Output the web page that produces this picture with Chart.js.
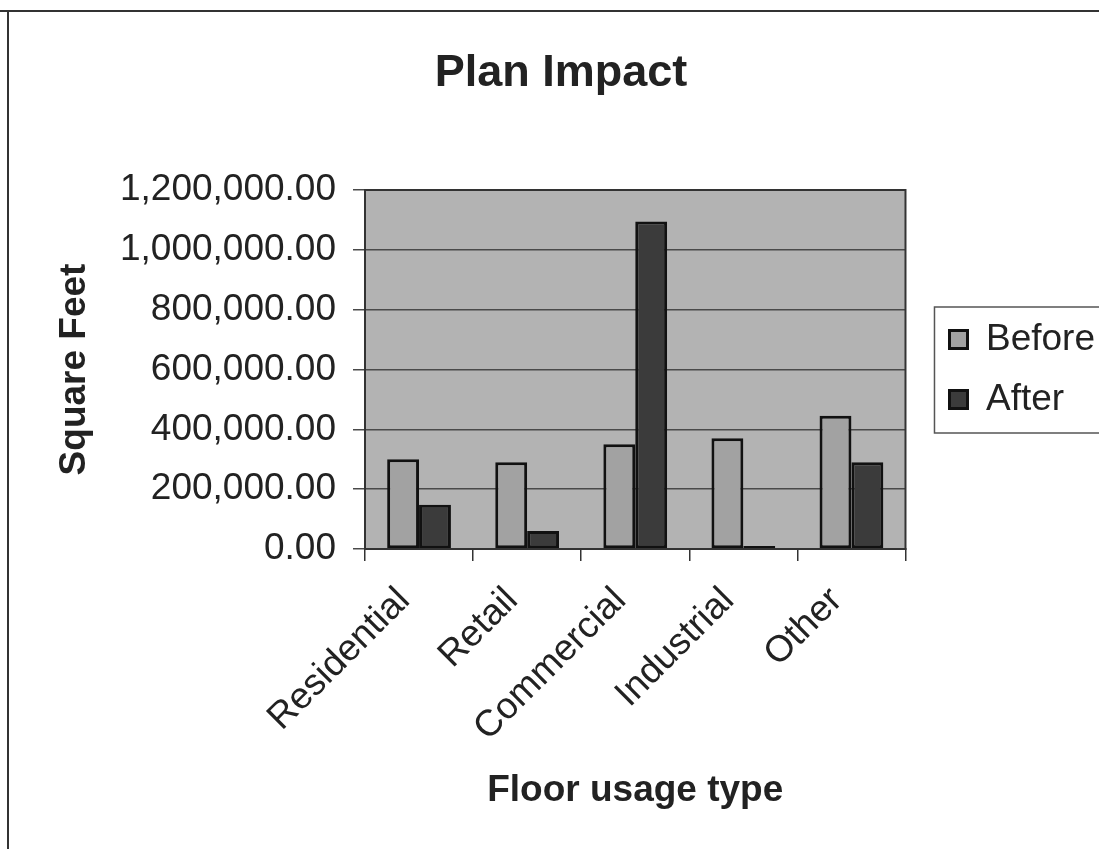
<!DOCTYPE html>
<html>
<head>
<meta charset="utf-8">
<script src="https://cdn.jsdelivr.net/npm/chart.js@4.4.1/dist/chart.umd.min.js"></script>
<style>
html,body{margin:0;padding:0;background:#fff;}
#wrap{position:relative;width:1099px;height:849px;}
</style>
</head>
<body>
<div id="wrap"><canvas id="c" width="1099" height="849"></canvas></div>
<script>
const categories = ['Residential', 'Retail', 'Commercial', 'Industrial', 'Other'];
const seriesNames = ['Before', 'After'];
const beforeValues = [300000, 290000, 350000, 370000, 445000];
const afterValues = [148000, 60000, 1095000, 10000, 290000];
const yTickValues = [0, 200000, 400000, 600000, 800000, 1000000, 1200000];
const chartTitle = 'Plan Impact';
const xAxisTitle = 'Floor usage type';
const yAxisTitle = 'Square Feet';

const FONT = '"Liberation Sans", Arial, Helvetica, sans-serif';
const TEXT = '#222';

function fmt(v) {
  const s = Math.round(v).toString().replace(/\B(?=(\d{3})+(?!\d))/g, ',');
  return s + '.00';
}

const framePlugin = {
  id: 'frame',
  beforeDraw(chart) {
    const ctx = chart.ctx, a = chart.chartArea;
    ctx.save();
    ctx.fillStyle = '#fff';
    ctx.fillRect(0, 0, chart.width, chart.height);
    ctx.strokeStyle = '#333';
    ctx.lineWidth = 2;
    ctx.beginPath();
    ctx.moveTo(0, 11); ctx.lineTo(chart.width, 11);
    ctx.moveTo(8, 11); ctx.lineTo(8, chart.height);
    ctx.stroke();
    ctx.fillStyle = '#b3b3b3';
    ctx.fillRect(a.left, a.top, a.right - a.left, a.bottom - a.top);
    ctx.restore();
  },
  afterDraw(chart) {
    const ctx = chart.ctx, a = chart.chartArea;
    ctx.save();
    ctx.strokeStyle = '#333';
    ctx.lineWidth = 2;
    ctx.strokeRect(a.left, a.top, a.right - a.left, a.bottom - a.top);
    const lg = chart.legend;
    if (lg && lg.legendHitBoxes && lg.legendHitBoxes.length) {
      const hb = lg.legendHitBoxes;
      const first = hb[0], last = hb[hb.length - 1];
      const x0 = first.left - 15;
      const y0 = first.top - 14;
      const y1 = last.top + last.height + 15;
      ctx.strokeStyle = '#555';
      ctx.lineWidth = 1.5;
      ctx.strokeRect(x0, y0, chart.width + 20 - x0, y1 - y0);
    }
    ctx.restore();
  }
};

new Chart(document.getElementById('c'), {
  type: 'bar',
  data: {
    labels: categories,
    datasets: [
      {
        label: seriesNames[0],
        data: beforeValues,
        backgroundColor: '#a2a2a2',
        borderColor: '#111',
        borderWidth: 3,
        borderSkipped: false,
        categoryPercentage: 0.59,
        barPercentage: 1.0
      },
      {
        label: seriesNames[1],
        data: afterValues,
        backgroundColor: '#3b3b3b',
        borderColor: '#111',
        borderWidth: 3,
        borderSkipped: false,
        categoryPercentage: 0.59,
        barPercentage: 1.0
      }
    ]
  },
  options: {
    responsive: false,
    animation: false,
    devicePixelRatio: 1,
    layout: { padding: { top: 12, left: 17, right: -6, bottom: 36 } },
    plugins: {
      title: {
        display: true,
        text: chartTitle,
        color: TEXT,
        font: { family: FONT, size: 45, weight: 'bold' },
        padding: { top: 35, bottom: 89 }
      },
      legend: {
        display: true,
        position: 'right',
        fullSize: false,
        labels: {
          color: TEXT,
          font: { family: FONT, size: 37 },
          boxWidth: 18,
          boxHeight: 18,
          padding: 23
        }
      },
      tooltip: { enabled: false }
    },
    scales: {
      x: {
        grid: { display: true, drawOnChartArea: false, tickLength: 12, color: '#333', lineWidth: 1.5, offset: true },
        border: { display: true, color: '#222', width: 2 },
        ticks: {
          color: TEXT,
          font: { family: FONT, size: 37 },
          minRotation: 45,
          maxRotation: 45,
          padding: 18,
          labelOffset: -15,
          autoSkip: false
        },
        title: {
          display: true,
          text: xAxisTitle,
          color: TEXT,
          font: { family: FONT, size: 37, weight: 'bold' },
          padding: { top: 0, bottom: 0 }
        },
        afterFit(s) { s.height = 264; }
      },
      y: {
        min: 0,
        max: 1200000,
        afterBuildTicks(s) { s.ticks = yTickValues.map(v => ({ value: v })); },
        grid: { color: '#4a4a4a', lineWidth: 1.5, tickLength: 12 },
        border: { display: true, color: '#222', width: 2 },
        ticks: {
          color: TEXT,
          font: { family: FONT, size: 37 },
          padding: 17,
          callback: (v) => fmt(v)
        },
        title: {
          display: true,
          text: yAxisTitle,
          color: TEXT,
          font: { family: FONT, size: 37, weight: 'bold' },
          padding: { top: 36, bottom: 0 }
        },
        afterFit(s) { s.width = 348; }
      },
      yR: {
        position: 'right',
        display: true,
        grid: { display: false, drawTicks: false },
        border: { display: false },
        ticks: { display: false },
        afterFit(s) { s.width = 21; }
      }
    }
  },
  plugins: [framePlugin]
});
</script>
</body>
</html>
